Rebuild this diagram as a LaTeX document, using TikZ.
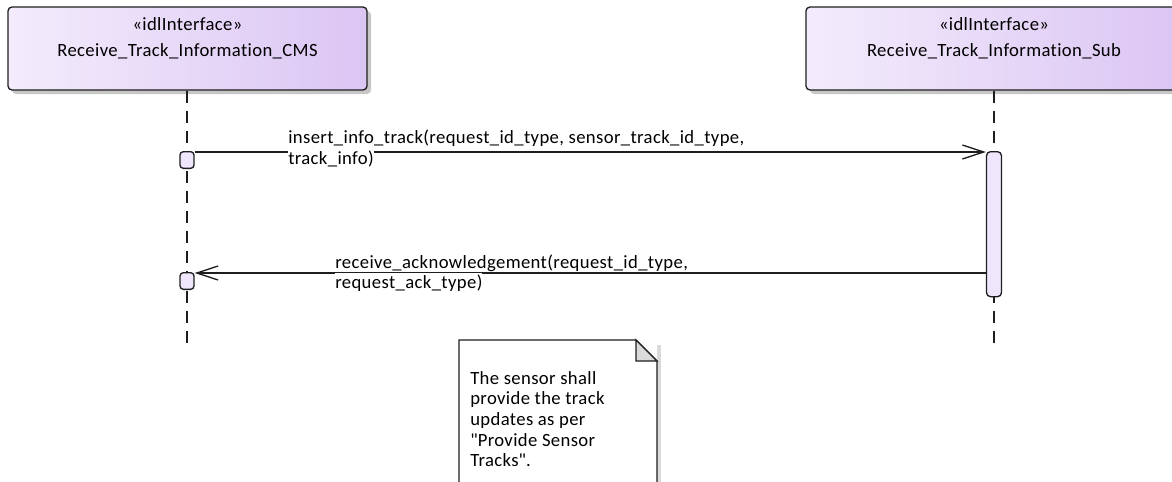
\documentclass[tikz,border=0pt]{standalone}
\usepackage{fontspec}
\setmainfont{Carlito}[LetterSpace=2, Ligatures={NoCommon}]
\usetikzlibrary{arrows.meta,positioning,shadows}
\definecolor{boxleft}{HTML}{F3ECFC}
\definecolor{boxright}{HTML}{DBC5F3}
\definecolor{actfill}{HTML}{EFE6FC}
\definecolor{edge}{HTML}{1E1E1E}
\definecolor{foldgray}{HTML}{DADADA}
\tikzset{
  eafont/.style={font=\fontsize{14pt}{15.5pt}\selectfont},
  lifebox/.style={draw=edge, line width=1pt, rounded corners=3pt, left color=boxleft, right color=boxright,
                  minimum height=62.25pt, drop shadow={shadow xshift=3pt, shadow yshift=-3pt, fill=black!22, opacity=1}},
  headtext/.style={eafont, align=center, inner sep=0pt},
  lifeline/.style={draw=edge, line width=1.1pt, dash pattern=on 9pt off 6pt},
  actbar/.style={draw=edge, line width=1pt, fill=actfill, rounded corners=3pt, minimum width=11.25pt, inner sep=0pt},
  callsq/.style={draw=edge, line width=1pt, fill=actfill, rounded corners=2.5pt, minimum width=10.5pt,
                 minimum height=12.5pt, inner sep=0pt},
  msg/.style={draw=edge, line width=1pt, -{Straight Barb[length=16pt, width=10.5pt, line width=1pt]}},
  msglab/.style={eafont, inner sep=0pt, anchor=base west},
  coverlab/.style={msglab, fill=white, text height=11pt},
}

\begin{document}
\begin{tikzpicture}[x=0.75pt, y=-0.75pt]
  \useasboundingbox (0,0) rectangle (1172,482);
  \clip (0,0) rectangle (1172,482);
  % lifeline heads
  \node[lifebox, minimum width=269.25pt] (cms) at (187.5,48.5) {};
  \node[lifebox, minimum width=282pt] (sub) at (994,48.5) {};
  \node[headtext, below=8pt of cms.north] (cmsname) {«idlInterface»\\[4.5pt]Receive\_Track\_Information\_CMS};
  \node[headtext, below=8pt of sub.north] (subname) {«idlInterface»\\[4.5pt]Receive\_Track\_Information\_Sub};
  % lifelines
  \coordinate (cmsend) at (187,348);
  \coordinate (subend) at (994,348);
  \draw[lifeline] (cms.south -| cmsend) -- (cmsend);
  \draw[lifeline] (sub.south -| subend) -- (subend);
  % activation and call points
  \node[actbar, minimum height=108.75pt, anchor=north] (act) at (994,151) {};
  \node[callsq, anchor=north] (sq1) at (187,151) {};
  \node[callsq, anchor=north] (sq2) at (187,272) {};
  % messages
  \draw[msg] ([yshift=-0.75pt]sq1.north east) -- ([yshift=-0.75pt]act.north west);
  \draw[msg] ([yshift=-0.75pt]sq2.north east -| act.west) -- ([yshift=-0.75pt]sq2.north east);
  \node[msglab] (m1a) at (288,143) {insert\_info\_track(request\_id\_type, sensor\_track\_id\_type,};
  \node[coverlab] (m1b) at (288,164) {track\_info)};
  \node[msglab] (m2a) at (335,268) {receive\_acknowledgement(request\_id\_type,};
  \node[coverlab] (m2b) at (335,288) {request\_ack\_type)};
  % note
  \fill[foldgray] (657,345) rectangle (661,490);
  \draw[edge, line width=1pt, fill=white] (459,340) -- (636,340) -- (657,361) -- (657,490) -- (459,490) -- cycle;
  \draw[edge, line width=1pt, fill=foldgray] (636,340) -- (636,361) -- (657,361) -- cycle;
  \node[eafont, align=left, inner sep=0pt, anchor=north west] (note) at (470,371)
    {The sensor shall\\provide the track\\updates as per\\\textquotedbl Provide Sensor\\Tracks\textquotedbl.};
\end{tikzpicture}
\end{document}
